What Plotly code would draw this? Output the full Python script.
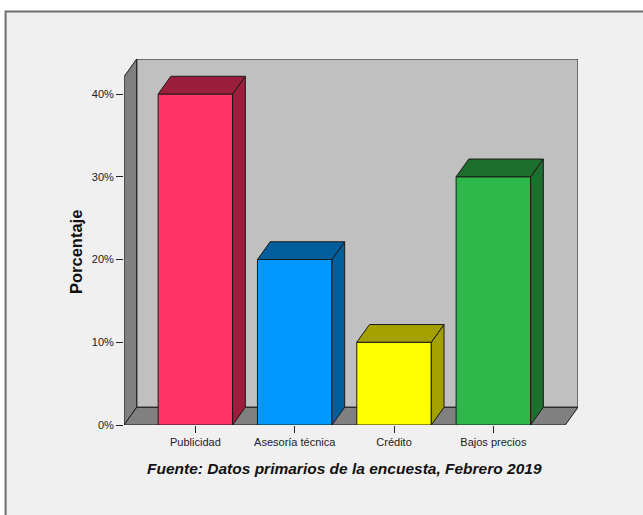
import plotly.graph_objects as go

# Survey results
categories = ["Publicidad", "Asesoría técnica", "Crédito", "Bajos precios"]
percentages = [40, 20, 10, 30]
front_colors = ["#FF3366", "#0099FF", "#FFFF00", "#2EB84B"]
shade_colors = ["#9C1E3D", "#005E9C", "#A4A000", "#1E6E2E"]
y_ticks = [0, 10, 20, 30, 40]

# 3D box geometry (axis units)
BAR_W = 0.75
DX, DY = 0.128, 2.14          # depth offset of the "3D" projection
X_LO, X_HI = -0.7186, 3.724   # front edges of the floor
Y_TOP = 42.09                 # height of the front-left wall
EDGE = "#1A1A1A"
WALL = "#C0C0C0"
SIDE = "#808080"

W, H = 643, 515
ML, MR, MT, MB = 124, 64.7, 59, 90
PW, PH = W - ML - MR, H - MT - MB


def px_to_paper_x(px):
    return (px - ML) / PW


def px_to_paper_y(py):
    return (H - MB - py) / PH


fig = go.Figure()

# Bar front faces
for cat_i, (v, c) in enumerate(zip(percentages, front_colors)):
    fig.add_trace(go.Bar(
        x=[cat_i], y=[v], width=BAR_W, marker=dict(color=c, line=dict(color=EDGE, width=1)),
        hoverinfo="skip", showlegend=False,
    ))

# Bar top and side faces
for cat_i, (v, c) in enumerate(zip(percentages, shade_colors)):
    x0, x1 = cat_i - BAR_W / 2, cat_i + BAR_W / 2
    top_x = [x0, x1, x1 + DX, x0 + DX, x0]
    top_y = [v, v, v + DY, v + DY, v]
    side_x = [x1, x1, x1 + DX, x1 + DX, x1]
    side_y = [0, v, v + DY, DY, 0]
    for xs, ys in ((side_x, side_y), (top_x, top_y)):
        fig.add_trace(go.Scatter(
            x=xs, y=ys, mode="lines", fill="toself", fillcolor=c,
            line=dict(color=EDGE, width=1), hoverinfo="skip", showlegend=False,
        ))

shapes = [
    # outer frame
    dict(type="rect", xref="paper", yref="paper", layer="below",
         x0=px_to_paper_x(5.5), x1=px_to_paper_x(700),
         y0=px_to_paper_y(560), y1=px_to_paper_y(11.5),
         fillcolor="#F0F0F0", line=dict(color="#6E6E6E", width=2)),
    # back wall
    dict(type="path", xref="x", yref="y", layer="below",
         path=f"M{X_LO + DX},{DY} L{X_HI + DX},{DY} L{X_HI + DX},{Y_TOP + DY} L{X_LO + DX},{Y_TOP + DY} Z",
         fillcolor=WALL, line=dict(color=EDGE, width=1)),
    # left wall
    dict(type="path", xref="x", yref="y", layer="below",
         path=f"M{X_LO},0 L{X_LO},{Y_TOP} L{X_LO + DX},{Y_TOP + DY} L{X_LO + DX},{DY} Z",
         fillcolor=SIDE, line=dict(color=EDGE, width=1)),
    # floor
    dict(type="path", xref="x", yref="y", layer="below",
         path=f"M{X_LO},0 L{X_HI},0 L{X_HI + DX},{DY} L{X_LO + DX},{DY} Z",
         fillcolor=SIDE, line=dict(color=EDGE, width=1)),
]

annotations = [
    dict(text="<b><i>Fuente: Datos primarios de la encuesta, Febrero 2019</i></b>",
         xref="paper", yref="paper", x=px_to_paper_x(344.5), y=px_to_paper_y(469),
         xanchor="center", yanchor="middle", showarrow=False,
         font=dict(family="Liberation Sans, Arial, sans-serif", size=15.5, color="#111111")),
    dict(text="<b>Porcentaje</b>", textangle=-90,
         xref="paper", yref="paper", x=px_to_paper_x(76), y=px_to_paper_y(252),
         xanchor="center", yanchor="middle", showarrow=False,
         font=dict(family="Liberation Sans, Arial, sans-serif", size=16.5, color="#111111")),
]

fig.update_layout(
    width=W, height=H,
    margin=dict(l=ML, r=MR, t=MT, b=MB, pad=0),
    paper_bgcolor="white", plot_bgcolor="rgba(0,0,0,0)",
    shapes=shapes, annotations=annotations,
    showlegend=False, barmode="overlay",
    font=dict(family="Liberation Sans, Arial, sans-serif", size=11, color="#222222"),
)
fig.update_xaxes(
    range=[X_LO, X_HI + DX], tickmode="array", tickvals=list(range(len(categories))),
    ticktext=categories, ticks="outside", ticklen=7, tickcolor="#222222",
    showgrid=False, zeroline=False, showline=False, fixedrange=True,
)
fig.update_yaxes(
    range=[0, Y_TOP + DY], tickmode="array", tickvals=y_ticks,
    ticktext=[f"{t}%" for t in y_ticks], ticks="outside", ticklen=7, tickcolor="#222222",
    showgrid=False, zeroline=False, showline=False, fixedrange=True,
)

fig.write_html("out.html")
